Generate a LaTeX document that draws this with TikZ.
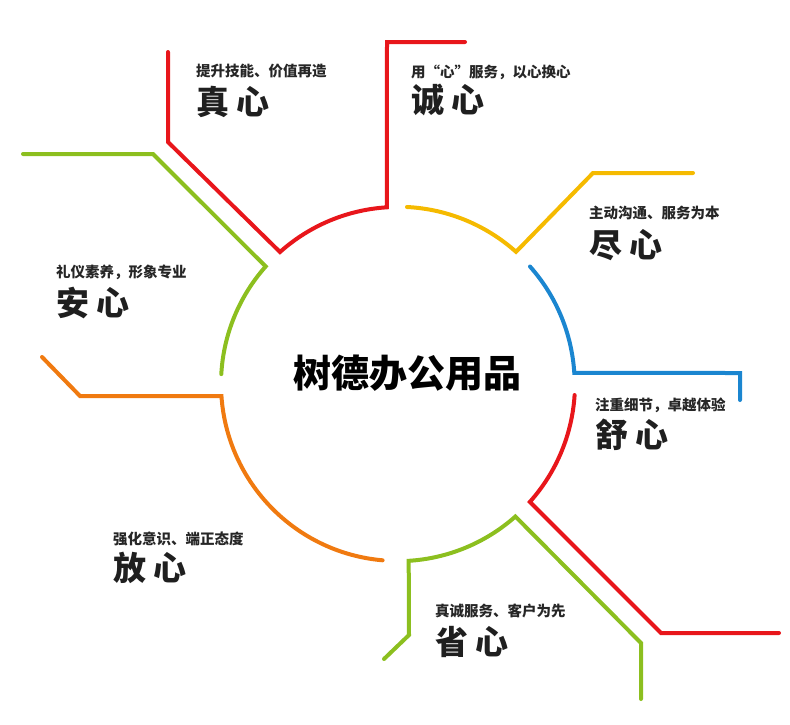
\documentclass[tikz,border=0pt]{standalone}
\usepackage{fontspec}
\usetikzlibrary{calc}
\newfontfamily\cjk{Noto Sans CJK SC}
\definecolor{cred}{HTML}{E8161B}
\definecolor{cyel}{HTML}{F5BA00}
\definecolor{cblue}{HTML}{1B86D0}
\definecolor{cgreen}{HTML}{8CBF1F}
\definecolor{corange}{HTML}{F07A10}
\tikzset{
  seg/.style={line width=4pt, line cap=round, line join=miter},
  small/.style={anchor=base west, inner sep=0pt, font=\cjk\bfseries\fontsize{14.5pt}{15pt}\selectfont, text=black!85},
  big/.style={anchor=base west, inner sep=0pt, font=\cjk\bfseries\fontsize{33pt}{34pt}\selectfont, text=black!88},
}
\begin{document}
\begin{tikzpicture}[x=1pt,y=-1pt]
\useasboundingbox (0,0) rectangle (790,724);
\coordinate (C) at (398,384);
% Red top (zhen / cheng)
\coordinate (r1) at (168,52);
\coordinate (r2) at (168,142);
\coordinate (r3) at (465,42);
\coordinate (r4) at (387,42);
\draw[seg, cred] (r1) -- (r2) -- ($(C)+(-118,-132)$) coordinate (ra)
  arc[start angle=-131.8, end angle=-93.6, radius=177] -- (r4) -- (r3);
% Yellow
\coordinate (y1) at (593,173);
\coordinate (y2) at (693,173);
\draw[seg, cyel] ($(C)+(9,-177)$) arc[start angle=-87.1, end angle=-48.2, radius=177] -- (y1) -- (y2);
% Blue
\coordinate (b1) at (740,373);
\coordinate (b2) at (740,400);
\draw[seg, cblue] ($(C)+(132,-117.5)$) arc[start angle=-41.6, end angle=-3.6, radius=177] -- (b1) -- (b2);
% Red right (shu)
\coordinate (s1) at (661,633);
\coordinate (s2) at (779,633);
\draw[seg, cred] ($(C)+(176.6,11)$) arc[start angle=3.6, end angle=41.8, radius=177] -- (s1) -- (s2);
% Green bottom (sheng)
\coordinate (g1) at (641,643);
\coordinate (g2) at (641,699);
\coordinate (g3) at (409,635);
\coordinate (g4) at (384,659);
\draw[seg, cgreen] (g2) -- (g1) -- ($(C)+(117.4,132.5)$) arc[start angle=48.4, end angle=86.5, radius=177] -- (g3) -- (g4);
% Orange (fang)
\coordinate (o1) at (80,396);
\coordinate (o2) at (42,357);
\draw[seg, corange] ($(C)+(-15.4,176.3)$) arc[start angle=95, end angle=176.1, radius=177] -- (o1) -- (o2);
% Green left (an)
\coordinate (a1) at (153,154);
\coordinate (a2) at (23,154);
\draw[seg, cgreen] ($(C)+(-176.7,-9.9)$) arc[start angle=-176.8, end angle=-138.4, radius=177] -- (a1) -- (a2);
% Title
\node[anchor=base, inner sep=0pt, font=\cjk\bfseries\fontsize{38pt}{40pt}\selectfont] (title) at (407,387.5) {树德办公用品};
% Labels
\node[small] (t1s) at (196,76.5) {提升技能、价值再造};
\node[big] (t1b) at (196,114.5) {真 心};
\node[small] (t2s) at (411,77.5) {用“心”服务，以心换心};
\node[big] (t2b) at (411,112.5) {诚 心};
\node[small] (t3s) at (589,218.5) {主动沟通、服务为本};
\node[big] (t3b) at (589,257.5) {尽 心};
\node[small] (t4s) at (56,277.5) {礼仪素养，形象专业};
\node[big] (t4b) at (56,315.5) {安 心};
\node[small] (t5s) at (595,410.5) {注重细节，卓越体验};
\node[big] (t5b) at (595,447.5) {舒 心};
\node[small] (t6s) at (435,616.5) {真诚服务、客户为先};
\node[big] (t6b) at (435,654.5) {省 心};
\node[small] (t7s) at (113,544.5) {强化意识、端正态度};
\node[big] (t7b) at (113,580.5) {放 心};
\end{tikzpicture}
\end{document}
